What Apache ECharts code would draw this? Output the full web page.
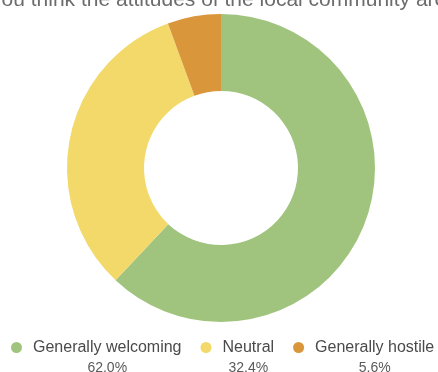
<!DOCTYPE html>
<html>
<head>
<meta charset="utf-8">
<script src="https://cdn.jsdelivr.net/npm/echarts@6/dist/echarts.min.js"></script>
<style>html,body{margin:0;padding:0;background:#fff}#c{width:438px;height:372px}</style>
</head>
<body>
<div id="c"></div>
<script>
var titleText = 'How do you think the attitudes of the local community are towards you?';
var categories = ['Generally welcoming', 'Neutral', 'Generally hostile'];
var values = [62.0, 32.4, 5.6];
var colors = ['#a0c47d', '#f3d86a', '#d9963b'];

var chart = echarts.init(document.getElementById('c'), null, {renderer: 'canvas'});
var pct = {};
categories.forEach(function (c, i) { pct[c] = values[i].toFixed(1) + '%'; });

chart.setOption({
  animation: false,
  color: colors,
  graphic: [{
    type: 'text',
    x: -86,
    y: 0,
    style: {
      text: titleText,
      font: '21px "Liberation Sans", Arial, sans-serif',
      fill: '#6c6c6c',
      verticalAlign: 'middle',
      align: 'left'
    }
  }],
  legend: {
    left: 6,
    top: 311,
    width: 500,
    icon: 'circle',
    itemWidth: 23,
    itemHeight: 11,
    itemGap: 19,
    selectedMode: false,
    data: categories,
    formatter: function (name) {
      return '{n|' + name + '}\n{p|' + pct[name] + '}';
    },
    textStyle: {
      color: '#4a4a4a',
      fontFamily: '"Liberation Sans", Arial, sans-serif',
      fontSize: 16,
      lineHeight: 21,
      padding: [21, 0, 0, 0],
      rich: {
        n: {fontSize: 16, lineHeight: 21, color: '#4a4a4a', fontFamily: '"Liberation Sans", Arial, sans-serif'},
        p: {fontSize: 14, lineHeight: 21, color: '#5a5a5a', align: 'center', fontFamily: '"Liberation Sans", Arial, sans-serif'}
      }
    }
  },
  series: [{
    type: 'pie',
    center: [221, 168],
    radius: [77, 154],
    startAngle: 90,
    clockwise: true,
    label: {show: false},
    labelLine: {show: false},
    emphasis: {disabled: true},
    data: categories.map(function (c, i) { return {name: c, value: values[i]}; })
  }]
});
</script>
</body>
</html>
